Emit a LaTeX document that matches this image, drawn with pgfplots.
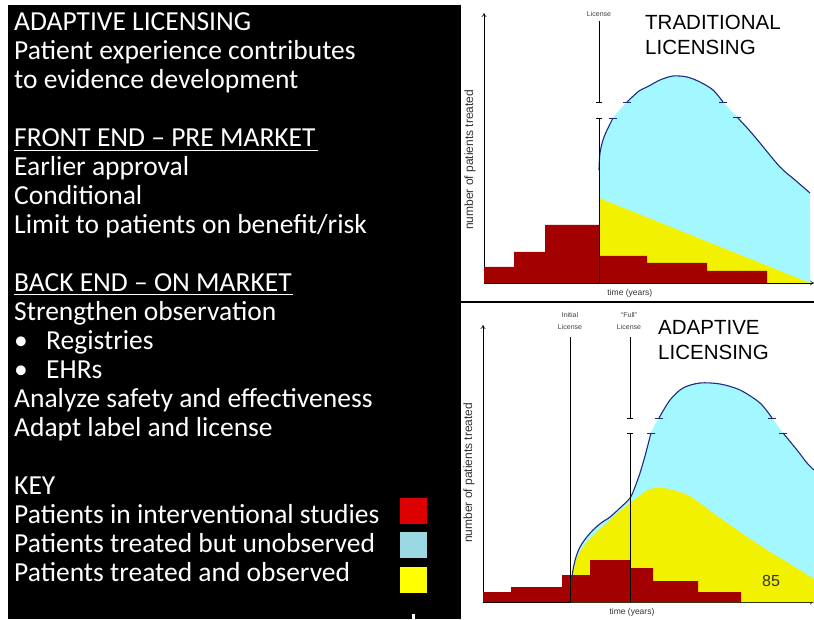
\documentclass[border=0pt]{standalone}
\usepackage{fontspec}
\setmainfont{Carlito}
\newfontfamily\arialf{Liberation Sans}
\usepackage{pgfplots}
\pgfplotsset{compat=1.18}
\usetikzlibrary{arrows.meta}

\definecolor{chartred}{HTML}{A30000}
\definecolor{chartcyan}{HTML}{A3F8FF}
\definecolor{chartyellow}{HTML}{F2F200}
\definecolor{curveblue}{HTML}{1F2A80}
\definecolor{keyred}{HTML}{DD0000}
\definecolor{keycyan}{HTML}{9AD9E2}
\definecolor{keyyellow}{HTML}{FFFF00}

\tikzset{
  small/.style={font=\arialf\fontsize{7}{8}\selectfont, color=black!75},
  big/.style={font=\arialf\fontsize{20.5}{24}\selectfont, anchor=base west, inner sep=0pt},
}
\pgfplotsset{
  lic/.style={
    scale only axis, axis lines=left, xtick=\empty, ytick=\empty, clip=false,
    axis line style={line width=0.6pt, -{To[length=4pt,width=5pt]}},
    ylabel={number of patients treated},
    xlabel={time (years)},
    ylabel style={anchor=center, font=\arialf\fontsize{12}{14}\selectfont, color=black!80},
    xlabel style={anchor=center, yshift=-10pt, font=\arialf\fontsize{8.5}{10}\selectfont, color=black!80},
  },
  vline/.style={black, line width=0.5pt},
  curve/.style={curveblue, line width=1.1pt, smooth},
  brk/.style={curveblue, line width=0.9pt},
}

\newcommand{\txt}[3][14]{\node[anchor=base west, white, font=\fontsize{27.5}{29}\selectfont, inner sep=0pt] at (#1,#2) {#3};}

\begin{document}
\begin{tikzpicture}[x=1pt,y=1pt]
\useasboundingbox (0,0) rectangle (814,619);
\fill[white] (0,0) rectangle (814,619);

% left text panel
\fill[black] (8,0) rectangle (461,614);
\txt{588.3}{ADAPTIVE LICENSING}
\txt{559.3}{Patient experience contributes}
\txt{530.3}{to evidence development}
\txt{472.3}{FRONT END – PRE MARKET}
\txt{443.3}{Earlier approval}
\txt{414.3}{Conditional}
\txt{385.3}{Limit to patients on benefit/risk}
\txt{327.3}{BACK END – ON MARKET}
\txt{298.3}{Strengthen observation}
\txt{269.3}{•}
\txt[46]{269.3}{Registries}
\txt{240.3}{•}
\txt[46]{240.3}{EHRs}
\txt{211.3}{Analyze safety and effectiveness}
\txt{182.3}{Adapt label and license}
\txt{124.3}{KEY}
\txt{95.3}{Patients in interventional studies}
\txt{66.3}{Patients treated but unobserved}
\txt{37.3}{Patients treated and observed}
\draw[white, line width=1.4pt] (14,468.3) -- (318,468.3);
\draw[white, line width=1.4pt] (14,324.3) -- (293,324.3);
\fill[keyred] (400,95) rectangle (427,121);
\fill[keycyan] (400,61) rectangle (427,87);
\fill[keyyellow] (400,26) rectangle (427,52);
\fill[white] (412,0) rectangle (415,5);

\draw[black, line width=1.2pt] (461,317) -- (814,317);

% traditional licensing
\begin{axis}[lic, at={(484pt,336pt)}, anchor=south west,
  width=330pt, height=270pt, xmin=0, xmax=330, ymin=0, ymax=270,
  ylabel style={at={(axis description cs:-0.042,0.456)}},
  xlabel style={at={(axis description cs:0.442,0)}}]
\addplot[fill=chartcyan, draw=none, smooth] coordinates {
 (115,113) (116,130) (120,146) (129,165) (143,181) (155,192) (163,196) (176,203)
 (189,207) (203,206) (216,201) (229,193) (239,181) (253,166) (265,153) (276,140)
 (296,116) (311,103) (326,90)} \closedcycle;
\addplot[fill=chartyellow, draw=none] coordinates {(115,0) (115,85) (326,0)} \closedcycle;
\addplot[const plot, fill=chartred, draw=none] coordinates {
 (0,16) (30,31) (61,58) (115,27) (163,20) (223,12) (283,12)} \closedcycle;
\addplot[curve] coordinates {(115,113) (116,130) (120,146) (129,165)};
\addplot[curve] coordinates {(143,181) (155,192) (163,196) (176,203) (189,207) (203,206) (216,201) (229,193) (239,181)};
\addplot[curve] coordinates {(253,166) (265,153) (276,140) (296,116) (311,103) (326,90)};
\addplot[brk] coordinates {(125,165) (133,165)};
\addplot[brk] coordinates {(139,181) (147,181)};
\addplot[brk] coordinates {(235,181) (243,181)};
\addplot[brk] coordinates {(249,166) (257,166)};
\addplot[vline] coordinates {(115,0) (115,165)};
\addplot[vline] coordinates {(115,181) (115,262)};
\addplot[vline] coordinates {(112,165) (118,165)};
\addplot[vline] coordinates {(112,181) (118,181)};
\node[small] at (axis cs:115,269) {License};
\node[big] at (axis cs:161,253) {TRADITIONAL};
\node[big] at (axis cs:161,228.7) {LICENSING};
\end{axis}

% adaptive licensing
\begin{axis}[lic, at={(483pt,17pt)}, anchor=south west,
  width=331pt, height=277pt, xmin=0, xmax=331, ymin=0, ymax=277,
  ylabel style={at={(axis description cs:-0.042,0.466)}},
  xlabel style={at={(axis description cs:0.45,0)}}]
\addplot[fill=chartcyan, draw=none, smooth] coordinates {
 (87,0) (88,16) (90,32) (93,45) (97,55) (103,64) (110,72) (118,79) (127,85)
 (137,94) (147,104) (152,115) (157,129) (162,146) (168,169)
 (176,184) (187,202) (200,214) (217,219) (237,218) (257,212) (277,199)
 (289,184) (300,169) (314,152) (324,139) (331,132)} \closedcycle;
\addplot[fill=chartyellow, draw=none, smooth] coordinates {
 (87.5,0) (88.5,16) (90.5,31) (93.5,43) (98,52) (104,60) (110,66) (118,74) (127,82)
 (137,91) (147,99) (155,105) (160,109) (167,113) (180,114) (197,110) (210,104)
 (230,89) (257,70) (284,52) (304,40) (331,23)} \closedcycle;
\addplot[const plot, fill=chartred, draw=none] coordinates {
 (0,10) (28,15) (79,27) (107,42) (147,34) (170,21) (215,10) (258,10)} \closedcycle;
\addplot[curve] coordinates {(87,0) (88,16) (90,32) (93,45) (97,55) (103,64) (110,72) (118,79) (127,85)
 (137,94) (147,104) (152,115) (157,129) (162,146) (168,169)};
\addplot[curve] coordinates {(176,184) (187,202) (200,214) (217,219) (237,218) (257,212) (277,199) (289,184)};
\addplot[curve] coordinates {(300,169) (314,152) (324,139) (331,132)};
\addplot[brk] coordinates {(164,169) (172,169)};
\addplot[brk] coordinates {(172,184) (180,184)};
\addplot[brk] coordinates {(285,184) (293,184)};
\addplot[brk] coordinates {(296,169) (304,169)};
\addplot[vline] coordinates {(87,0) (87,265)};
\addplot[vline] coordinates {(147,0) (147,169)};
\addplot[vline] coordinates {(147,184) (147,265)};
\addplot[vline] coordinates {(144,169) (150,169)};
\addplot[vline] coordinates {(144,184) (150,184)};
\node[small] at (axis cs:87,287) {Initial};
\node[small] at (axis cs:87,275) {License};
\node[small] at (axis cs:146,287) {“Full”};
\node[small] at (axis cs:146,275) {License};
\node[big] at (axis cs:175,267.7) {ADAPTIVE};
\node[big] at (axis cs:175,242.7) {LICENSING};
\node[anchor=base west, font=\arialf\fontsize{16}{18}\selectfont, color=black!80, inner sep=0pt] at (axis cs:279,16) {85};
\end{axis}
\end{tikzpicture}
\end{document}
